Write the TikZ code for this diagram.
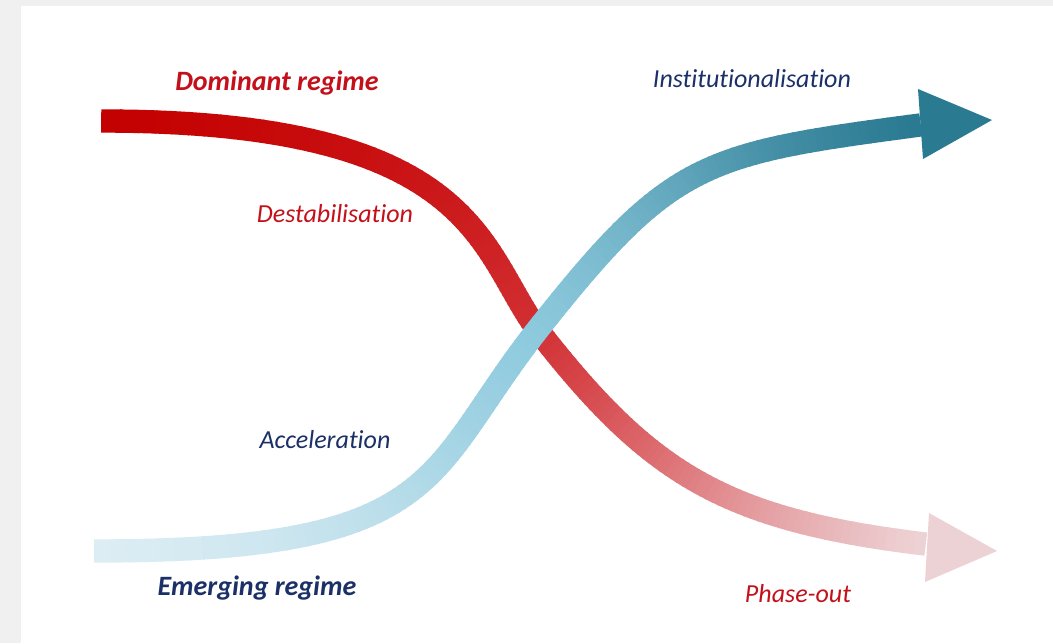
\documentclass[tikz,border=0pt]{standalone}
\usepackage{fontspec}
\setmainfont{Carlito}[Ligatures=NoCommon]
\usepackage{tikz}

\definecolor{pagegray}{RGB}{240,240,240}
\definecolor{redA}{RGB}{196,0,0}
\definecolor{redB}{RGB}{210,48,52}
\definecolor{redC}{RGB}{237,210,213}
\definecolor{blueA}{RGB}{222,238,244}
\definecolor{blueB}{RGB}{142,202,222}
\definecolor{blueC}{RGB}{42,122,146}
\definecolor{labelred}{RGB}{196,16,26}
\definecolor{labelnavy}{RGB}{28,48,104}

% one piece of a thick curve, shaded from colour #5 to colour #6
\newcommand{\gradseg}[6]{%
  \foreach \i in {1,...,60}{
    \pgfmathsetmacro{\ta}{(\i-1)/60}
    \pgfmathsetmacro{\tb}{\i/60}
    \pgfmathsetmacro{\pc}{100*\tb}
    \path (#1) .. controls (#2) and (#3) .. (#4)
      coordinate[pos=\ta] (qa) coordinate[pos=\tb] (qb);
    \draw[line width=17.5pt, color=#6!\pc!#5,
      shorten <=-0.6pt, shorten >=-0.6pt] (qa) -- (qb);
  }
}

\begin{document}
\begin{tikzpicture}[x=0.75pt, y=-0.75pt,
    phase/.style={font=\fontsize{19.5}{22}\selectfont\itshape},
    regime/.style={font=\fontsize{21}{24}\selectfont\bfseries\itshape}]
    % Frame
    \useasboundingbox (0, 0) rectangle (1053, 643);
    \fill[pagegray] (0, 0) rectangle (1053, 643);
    \fill[white] (21, 6) rectangle (1053, 643);

    % Points of the two curves
    \coordinate (r0) at (102, 121);
    \coordinate (r1) at (482, 121);
    \coordinate (r2) at (479, 254);
    \coordinate (rc) at (540, 333);
    \coordinate (r3) at (651, 475);
    \coordinate (r4) at (726, 520);
    \coordinate (rend) at (925, 544);

    \coordinate (b0) at (95, 551);
    \coordinate (b1) at (445, 551);
    \coordinate (b2) at (424, 475);
    \coordinate (bc) at (535, 333);
    \coordinate (b3) at (671, 160);
    \coordinate (b4) at (702, 154);
    \coordinate (bend) at (920, 125);

    % Draw the dominant regime (red, fading out)
    \gradseg{r0}{r1}{r2}{rc}{redA}{redB}
    \gradseg{rc}{r3}{r4}{rend}{redB}{redC}
    \fill[redC] (929, 513) -- (997, 551) -- (925, 582) -- cycle;

    % Draw the emerging regime (blue, growing)
    \gradseg{b0}{b1}{b2}{bc}{blueA}{blueB}
    \gradseg{bc}{b3}{b4}{bend}{blueB}{blueC}
    \fill[blueC] (918, 89) -- (992, 120) -- (923, 159) -- cycle;

    % Labels
    \node[regime, text=labelred] (dominant) at (277, 83) {Dominant regime};
    \node[phase, text=labelred] (destab) at (335, 214) {Destabilisation};
    \node[phase, text=labelnavy] (instit) at (752, 79) {Institutionalisation};
    \node[phase, text=labelnavy] (accel) at (325, 440) {Acceleration};
    \node[regime, text=labelnavy] (emerging) at (257, 588) {Emerging regime};
    \node[phase, text=labelred] (phaseout) at (798, 594) {Phase-out};
\end{tikzpicture}
\end{document}
